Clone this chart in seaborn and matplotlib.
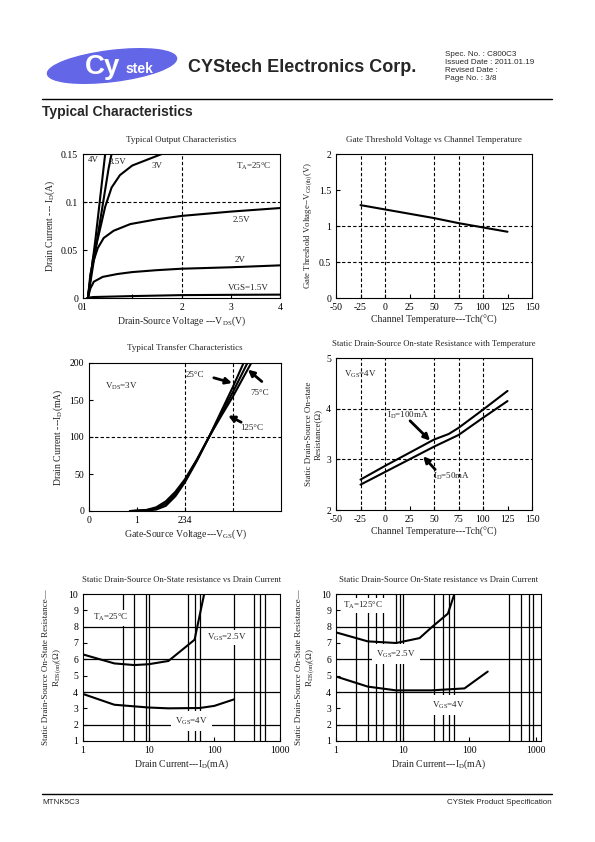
import matplotlib
matplotlib.use('Agg')
import matplotlib.pyplot as plt
from matplotlib.patches import Ellipse
import seaborn as sns

# ---- data ----

# Typical output characteristics: ID (A) vs VDS (V)
vds_15 = [0.08, 0.2, 1.0, 2.0, 3.0, 4.0]
id_15 = [0.0, 0.001, 0.002, 0.003, 0.0033, 0.0035]
vds_20 = [0.1, 0.15, 0.22, 0.4, 0.7, 1.0, 1.5, 2.0, 3.0, 4.0]
id_20 = [0.0, 0.01, 0.017, 0.022, 0.025, 0.027, 0.029, 0.0305, 0.032, 0.034]
vds_25 = [0.1, 0.15, 0.21, 0.3, 0.42, 0.62, 0.96, 1.5, 2.0, 3.0, 4.0]
id_25 = [0.0, 0.025, 0.038, 0.052, 0.0625, 0.07, 0.077, 0.082, 0.0855, 0.09, 0.0937]
vds_30 = [0.1, 0.2, 0.32, 0.45, 0.58, 0.75, 1.0, 1.6]
id_30 = [0.0, 0.04, 0.066, 0.095, 0.115, 0.128, 0.138, 0.15]
vds_35 = [0.1, 0.3, 0.52, 0.58]
id_35 = [0.0, 0.065, 0.135, 0.15]
vds_40 = [0.1, 0.25, 0.45]
id_40 = [0.0, 0.06, 0.15]

# Gate threshold voltage vs channel temperature
tch_vth = [-25, 0, 25, 50, 75, 100, 125]
vth = [1.29, 1.23, 1.17, 1.11, 1.04, 0.98, 0.92]

# Typical transfer characteristics: ID (mA) vs VGS (V), VDS=3V
vgs_t25 = [0.95, 1.2, 1.4, 1.6, 1.8, 2.0, 2.25, 2.5, 2.75, 3.0, 3.22]
id_t25 = [0, 0.5, 2, 7, 20, 39, 68, 100, 134, 168, 200]
vgs_t75 = [0.9, 1.2, 1.4, 1.6, 1.8, 2.0, 2.25, 2.5, 2.75, 3.0, 3.3]
id_t75 = [0, 1, 3.5, 10, 23, 41, 69, 100, 131, 161, 200]
vgs_t125 = [0.85, 1.2, 1.4, 1.6, 1.8, 2.0, 2.25, 2.5, 2.75, 3.0, 3.38]
id_t125 = [0, 1.5, 5, 13, 26, 43, 70, 100, 128, 155, 200]

# On-state resistance vs temperature, VGS=4V
tch_100 = [-25, 0, 25, 50, 65, 75, 100, 125]
rds_100 = [2.6, 2.87, 3.13, 3.39, 3.5, 3.62, 3.98, 4.35]
tch_50 = [-25, 0, 25, 50, 75, 100, 125]
rds_50 = [2.5, 2.75, 3.0, 3.25, 3.48, 3.82, 4.15]

# On-state resistance vs drain current, TA=25C
id_a25 = [1, 3, 6, 10, 20, 50, 70]
rds_a25 = [6.3, 5.75, 5.65, 5.7, 5.9, 7.2, 10.0]
id_a4 = [1, 3, 10, 20, 60, 100, 200]
rds_a4 = [3.88, 3.22, 3.05, 3.0, 3.02, 3.15, 3.55]

# On-state resistance vs drain current, TA=125C
id_b25 = [1, 3, 8, 18, 28, 48, 60]
rds_b25 = [7.65, 7.1, 7.0, 7.3, 8.0, 8.8, 10.0]
id_b4 = [1, 3, 8, 27, 85, 190]
rds_b4 = [4.95, 4.33, 4.1, 4.1, 4.22, 5.25]

# grid lines of the log charts
vlines_a = [4, 6, 9, 10, 40, 50, 60, 200, 400, 500, 600]
vlines_b = [2, 3, 4, 5, 8, 9, 10, 30, 40, 50, 60, 400, 600, 800, 900]

spec_lines = ['Spec. No. : C800C3', 'Issued Date : 2011.01.19',
              'Revised Date :', 'Page No. : 3/8']

# ---- style ----
sns.set_style('ticks')
plt.rcParams['font.family'] = ['Liberation Serif', 'DejaVu Serif']
plt.rcParams['font.size'] = 7
plt.rcParams['axes.unicode_minus'] = False
plt.rcParams['mathtext.fontset'] = 'custom'
plt.rcParams['mathtext.rm'] = 'Liberation Serif'
plt.rcParams['mathtext.it'] = 'Liberation Serif:italic'
plt.rcParams['axes.edgecolor'] = 'black'
plt.rcParams['axes.linewidth'] = 0.8
plt.rcParams['xtick.direction'] = 'in'
plt.rcParams['ytick.direction'] = 'in'
plt.rcParams['xtick.major.size'] = 3
plt.rcParams['ytick.major.size'] = 3
plt.rcParams['xtick.color'] = 'black'
plt.rcParams['ytick.color'] = 'black'
plt.rcParams['xtick.labelsize'] = 7
plt.rcParams['ytick.labelsize'] = 7

W, H = 595, 842
fig = plt.figure(figsize=(W / 100, H / 100), dpi=100)


def px_rect(x0, y0, x1, y1):
    return [x0 / W, 1 - y1 / H, (x1 - x0) / W, (y1 - y0) / H]


def curve(ax, x, y):
    sns.lineplot(x=x, y=y, ax=ax, color='black', linewidth=1.5,
                 sort=False, estimator=None, zorder=5)


def dashed(ax, xs=(), ys=()):
    for v in xs:
        ax.axvline(v, color='black', ls=(0, (3, 2)), lw=0.8, zorder=1)
    for v in ys:
        ax.axhline(v, color='black', ls=(0, (3, 2)), lw=0.8, zorder=1)


def arrow(ax, start, end):
    ax.annotate('', xy=end, xytext=start,
                arrowprops=dict(arrowstyle='-|>', color='black', lw=2,
                                mutation_scale=9, shrinkA=0, shrinkB=0))


title_kw = dict(fontsize=6.5, pad=9)

# ---- header / footer ----
hdr = fig.add_axes([0, 0, 1, 1])
hdr.set_xlim(0, W)
hdr.set_ylim(H, 0)
hdr.axis('off')
hdr.add_patch(Ellipse((112, 66), 130, 31, angle=-7, color='#6466e8'))
hdr.text(103, 67, 'Cy', color='white', fontsize=20, fontweight='bold',
         family='Liberation Sans', ha='center', va='center')
hdr.text(139, 69, 'stek', color='white', fontsize=10, fontweight='bold',
         family='Liberation Sans', ha='center', va='center')
hdr.text(188, 68, 'CYStech Electronics Corp.', fontsize=13,
         fontweight='bold', family='Liberation Sans', va='center')
for i, s in enumerate(spec_lines):
    hdr.text(445, 54 + i * 8, s, fontsize=5.8, family='Liberation Sans',
             va='center')
hdr.plot([42, 552], [99, 99], color='black', lw=1.0)
hdr.text(42, 112, 'Typical Characteristics', fontsize=10, fontweight='bold',
         family='Liberation Sans', va='center')
hdr.plot([42, 552], [794, 794], color='black', lw=1.0)
hdr.text(42, 803, 'MTNK5C3', fontsize=5.8, family='Liberation Sans',
         va='center')
hdr.text(552, 803, 'CYStek Product Specification', fontsize=5.8,
         family='Liberation Sans', va='center', ha='right')

# ---- 1: typical output characteristics ----
ax1 = fig.add_axes(px_rect(83, 154, 280, 298))
for x, y in [(vds_15, id_15), (vds_20, id_20), (vds_25, id_25),
             (vds_30, id_30), (vds_35, id_35), (vds_40, id_40)]:
    curve(ax1, x, y)
dashed(ax1, xs=[2], ys=[0.1])
ax1.set_xlim(0, 4)
ax1.set_ylim(0, 0.15)
ax1.set_xticks([0, 1, 2, 3, 4], ['01', '', '2', '3', '4'])
ax1.set_yticks([0, 0.05, 0.1, 0.15], ['0', '0.05', '0.1', '0.15'])
ax1.set_title('Typical Output Characteristics', **title_kw)
ax1.set_xlabel(r'Drain-Source Voltage ---V$_\mathrm{DS}$(V)', labelpad=2)
ax1.set_ylabel(r'Drain Current --- I$_\mathrm{D}$(A)', labelpad=3)
for x, y, s in [(0.215, 0.144, '4V'), (0.7, 0.142, '3.5V'),
                (1.5, 0.137, '3V'), (3.46, 0.137, r'T$_\mathrm{A}$=25°C'),
                (3.22, 0.081, '2.5V'), (3.19, 0.04, '2V'),
                (3.36, 0.010, 'VGS=1.5V')]:
    ax1.text(x, y, s, ha='center', va='center', fontsize=6.5)

# ---- 2: gate threshold voltage vs channel temperature ----
ax2 = fig.add_axes(px_rect(336, 154, 532, 298))
curve(ax2, tch_vth, vth)
dashed(ax2, xs=[-25, 0, 50, 75, 100], ys=[0.5, 1])
ax2.set_xlim(-50, 150)
ax2.set_ylim(0, 2)
ax2.set_xticks(range(-50, 151, 25))
ax2.set_yticks([0, 0.5, 1, 1.5, 2], ['0', '0.5', '1', '1.5', '2'])
ax2.set_title('Gate Threshold Voltage vs Channel Temperature', **title_kw)
ax2.set_xlabel('Channel Temperature---Tch(°C)', labelpad=2)
ax2.set_ylabel(r'Gate Threshold Voltage--V$_\mathrm{GS(th)}$(V)',
               fontsize=6.3, labelpad=3)

# ---- 3: typical transfer characteristics ----
ax3 = fig.add_axes(px_rect(89, 363, 281, 511))
for x, y in [(vgs_t25, id_t25), (vgs_t75, id_t75), (vgs_t125, id_t125)]:
    curve(ax3, x, y)
dashed(ax3, xs=[2, 3], ys=[100])
ax3.set_xlim(0, 4)
ax3.set_ylim(0, 200)
ax3.set_xticks([0, 1, 2], ['0', '1', '234'])
ax3.set_yticks(range(0, 201, 50))
ax3.set_title('Typical Transfer Characteristics', **title_kw)
ax3.set_xlabel(r'Gate-Source Voltage---V$_\mathrm{GS}$(V)', labelpad=2)
ax3.set_ylabel(r'Drain Current ---I$_\mathrm{D}$(mA)', labelpad=3)
ax3.text(0.68, 168, r'V$_\mathrm{DS}$=3V', ha='center', va='center',
         fontsize=6.5)
ax3.text(2.21, 184, '25°C', ha='center', va='center', fontsize=6.5)
ax3.text(3.56, 160, '75°C', ha='center', va='center', fontsize=6.5)
ax3.text(3.39, 112, '125°C', ha='center', va='center', fontsize=6.5)
arrow(ax3, (2.6, 180), (2.98, 173))
arrow(ax3, (3.6, 175), (3.31, 191))
arrow(ax3, (3.17, 120), (2.9, 129))

# ---- 4: on-state resistance vs temperature ----
ax4 = fig.add_axes(px_rect(336, 358, 532, 510))
curve(ax4, tch_100, rds_100)
curve(ax4, tch_50, rds_50)
dashed(ax4, xs=[-25, 0, 50, 75, 100], ys=[3, 4])
ax4.set_xlim(-50, 150)
ax4.set_ylim(2, 5)
ax4.set_xticks(range(-50, 151, 25))
ax4.set_yticks([2, 3, 4, 5])
ax4.set_title('Static Drain-Source On-state Resistance with Temperature',
              fontsize=6.2, pad=9)
ax4.set_xlabel('Channel Temperature---Tch(°C)', labelpad=2)
ax4.set_ylabel('Static Drain-Source On-state\nResistance(Ω)', fontsize=6.5,
               labelpad=3)
ax4.text(-25.5, 4.67, r'V$_\mathrm{GS}$=4V', ha='center', va='center',
         fontsize=6.5)
ax4.text(23.6, 3.86, r'I$_\mathrm{D}$=100mA', ha='center', va='center',
         fontsize=6.5)
ax4.text(68.2, 2.66, r'I$_\mathrm{D}$=50mA', ha='center', va='center',
         fontsize=6.5)
arrow(ax4, (25.6, 3.76), (46, 3.37))
arrow(ax4, (51.2, 2.8), (38.9, 3.06))


# ---- 5, 6: on-state resistance vs drain current ----
def rds_chart(ax, vlines, xmax):
    for v in vlines:
        ax.axvline(v, color='black', lw=0.9, zorder=1)
    for v in [2, 4, 6, 8]:
        ax.axhline(v, color='black', lw=0.9, zorder=1)
    ax.set_xscale('log')
    ax.set_xlim(1, xmax)
    ax.set_ylim(1, 10)
    ax.set_xticks([1, 10, 100, 1000], ['1', '10', '100', '1000'])
    ax.xaxis.set_minor_locator(matplotlib.ticker.NullLocator())
    ax.set_yticks(range(1, 11))
    ax.set_title('Static Drain-Source On-State resistance vs Drain Current',
                 fontsize=6.2, pad=9)
    ax.set_xlabel(r'Drain Current---I$_\mathrm{D}$(mA)', labelpad=2)
    ax.set_ylabel('Static Drain-Source On-State Resistance\u2014\n'
                  r'R$_\mathrm{DS(on)}$($\Omega$)', fontsize=6.5,
                  labelpad=3)


box = dict(fc='white', ec='none', pad=1.5)

ax5 = fig.add_axes(px_rect(83, 594, 280, 741))
rds_chart(ax5, vlines_a, 1000)
curve(ax5, id_a25, rds_a25)
curve(ax5, id_a4, rds_a4)
ax5.text(2.69, 8.54, r'T$_\mathrm{A}$=25°C', ha='center', va='center',
         fontsize=6.5, bbox=box, zorder=3)
ax5.text(154, 7.33, r'V$_\mathrm{GS}$=2.5V', ha='center', va='center',
         fontsize=6.5, bbox=box, zorder=3)
ax5.text(45, 2.23, r'V$_\mathrm{GS}$=4V', ha='center', va='center',
         fontsize=6.5, bbox=dict(fc='white', ec='none', pad=3), zorder=3)

ax6 = fig.add_axes(px_rect(336, 594, 541, 741))
rds_chart(ax6, vlines_b, 1200)
curve(ax6, id_b25, rds_b25)
curve(ax6, id_b4, rds_b4)
ax6.text(2.52, 9.3, r'T$_\mathrm{A}$=125°C', ha='center', va='center',
         fontsize=6.5, bbox=box, zorder=3)
ax6.text(8.0, 6.33, r'V$_\mathrm{GS}$=2.5V', ha='center', va='center',
         fontsize=6.5, bbox=dict(fc='white', ec='none', pad=3), zorder=3)
ax6.text(49, 3.2, r'V$_\mathrm{GS}$=4V', ha='center', va='center',
         fontsize=6.5, bbox=dict(fc='white', ec='none', pad=3), zorder=3)

fig.savefig('out.png', dpi=100)
